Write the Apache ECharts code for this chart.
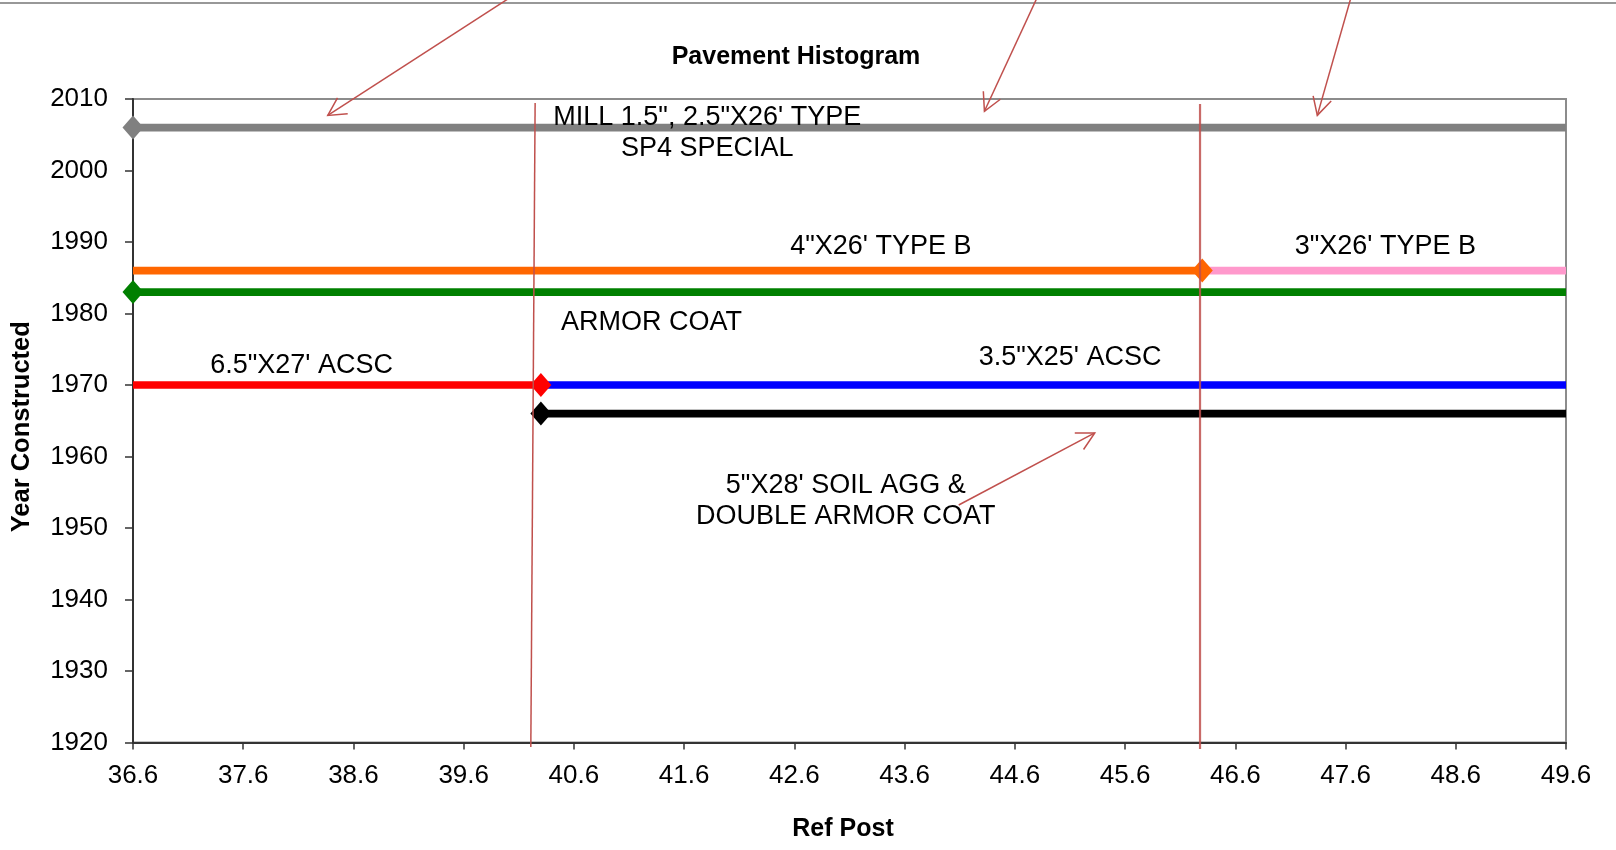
<!DOCTYPE html>
<html><head><meta charset="utf-8">
<script src="https://cdn.jsdelivr.net/npm/echarts@6/dist/echarts.min.js"></script>
<style>html,body{margin:0;padding:0;background:#fff}#c{width:1616px;height:850px}</style>
</head><body><div id="c"></div>
<script>
// ---- data ----
const xTicks = [36.6, 37.6, 38.6, 39.6, 40.6, 41.6, 42.6, 43.6, 44.6, 45.6, 46.6, 47.6, 48.6, 49.6];
const yTicks = [1920, 1930, 1940, 1950, 1960, 1970, 1980, 1990, 2000, 2010];
// pavement segments (drawing order)
const segmentNames = ["MILL 1.5\", 2.5\"X26' TYPE SP4 SPECIAL", "3\"X26' TYPE B", "4\"X26' TYPE B", "ARMOR COAT", "3.5\"X25' ACSC", "6.5\"X27' ACSC", "5\"X28' SOIL AGG & DOUBLE ARMOR COAT"];
const segmentYears = [2006, 1986, 1986, 1983, 1970, 1970, 1966];
const segmentFrom  = [36.6, 46.3, 36.6, 36.6, 40.3, 36.6, 40.3];
const segmentTo    = [49.6, 49.6, 46.3, 49.6, 49.6, 40.3, 49.6];
const segmentMarker = ['from', 'none', 'to', 'from', 'none', 'to', 'from'];
// annotation texts
const noteTexts = ["MILL 1.5\", 2.5\"X26' TYPE\nSP4 SPECIAL", "4\"X26' TYPE B", "3\"X26' TYPE B", "ARMOR COAT", "6.5\"X27' ACSC", "3.5\"X25' ACSC", "5\"X28' SOIL AGG &\nDOUBLE ARMOR COAT"];

// ---- styles / layout ----
const segmentColors = ['#808080', '#FF99CC', '#FF6600', '#008000', '#0000FF', '#FF0000', '#000000'];
const noteAnchors = [[41.81, 2005.27], [43.384, 1989.38], [47.961, 1989.42], [41.303, 1978.72], [38.129, 1972.67], [45.101, 1973.81], [43.066, 1953.77]];
const dividerLines = [
  {from: [40.248, 2009.44], to: [40.209, 1919.37], width: 1.5, opacity: 1},
  {from: [46.28, 2009.3], to: [46.28, 1919.09], width: 2.2, opacity: 0.85}
];
const arrowLines = [
  {tail: [40.057, 2024.55], tip: [38.367, 2007.71]},
  {tail: [44.813, 2024.55], tip: [44.324, 2008.28]},
  {tail: [47.656, 2024.55], tip: [47.344, 2007.71]},
  {tail: [44.091, 1953.22], tip: [45.325, 1963.30]}
];
const FONT = '"Liberation Sans", Arial, sans-serif';
const ANNOT = '#C0504D';

const chart = echarts.init(document.getElementById('c'), null, {renderer: 'canvas'});

const series = segmentYears.map((yr, i) => ({
  type: 'line',
  name: segmentNames[i],
  data: [
    {value: [segmentFrom[i], yr], symbol: segmentMarker[i] === 'from' ? 'diamond' : 'none'},
    {value: [segmentTo[i], yr], symbol: segmentMarker[i] === 'to' ? 'diamond' : 'none'}
  ],
  symbolSize: [21, 24],
  showSymbol: true,
  lineStyle: {width: 7.7, color: segmentColors[i], cap: 'butt'},
  itemStyle: {color: segmentColors[i]},
  clip: false,
  silent: true,
  animation: false,
  z: 2 + i
}));

chart.setOption({
  animation: false,
  backgroundColor: '#fff',
  title: {
    text: 'Pavement Histogram',
    left: 796,
    textAlign: 'center',
    top: 45,
    padding: 0,
    textStyle: {fontFamily: FONT, fontSize: 25, fontWeight: 'bold', color: '#000'}
  },
  grid: {left: 133, right: 50, top: 99, bottom: 107.5, show: true, borderColor: '#8c8c8c', borderWidth: 2, backgroundColor: 'transparent'},
  xAxis: {
    type: 'value', min: xTicks[0], max: xTicks[xTicks.length - 1],
    name: 'Ref Post', nameLocation: 'middle', nameGap: 74,
    nameTextStyle: {fontFamily: FONT, fontSize: 25, fontWeight: 'bold', color: '#000', padding: [0, 13, 0, 0]},
    axisLine: {show: true, lineStyle: {color: '#333', width: 2}},
    axisTick: {show: true, length: 7, customValues: xTicks, lineStyle: {color: '#333', width: 1.5}},
    axisLabel: {customValues: xTicks, margin: 20, fontFamily: FONT, fontSize: 26, color: '#000', formatter: v => v.toFixed(1)},
    splitLine: {show: false}
  },
  yAxis: {
    type: 'value', min: yTicks[0], max: yTicks[yTicks.length - 1], interval: 10,
    name: 'Year Constructed', nameLocation: 'middle', nameGap: 98, nameRotate: 90,
    nameTextStyle: {fontFamily: FONT, fontSize: 25.5, fontWeight: 'bold', color: '#000', padding: [0, 12, 0, 0]},
    axisLine: {show: true, lineStyle: {color: '#333', width: 2}},
    axisTick: {show: true, length: 8, lineStyle: {color: '#333', width: 1.5}},
    axisLabel: {margin: 25, fontFamily: FONT, fontSize: 26, color: '#000', formatter: v => String(v)},
    splitLine: {show: false}
  },
  series: series
});

function px(p) { return chart.convertToPixel({gridIndex: 0}, p); }

const graphics = [];
// frame line at top
graphics.push({type: 'line', silent: true, z: 100, shape: {x1: 0, y1: 3, x2: 1616, y2: 3}, style: {stroke: '#333', lineWidth: 1.2}});
dividerLines.forEach(d => {
  const a = px(d.from), b = px(d.to);
  graphics.push({type: 'line', silent: true, z: 100, shape: {x1: a[0], y1: a[1], x2: b[0], y2: b[1]}, style: {stroke: ANNOT, lineWidth: d.width, opacity: d.opacity}});
});
arrowLines.forEach(ar => {
  const t = px(ar.tip), q = px(ar.tail);
  const dx = q[0] - t[0], dy = q[1] - t[1];
  const L = Math.hypot(dx, dy), ux = dx / L, uy = dy / L;
  const ang = 28 * Math.PI / 180, len = 20;
  const r1 = [t[0] + len * (ux * Math.cos(ang) - uy * Math.sin(ang)), t[1] + len * (ux * Math.sin(ang) + uy * Math.cos(ang))];
  const r2 = [t[0] + len * (ux * Math.cos(-ang) - uy * Math.sin(-ang)), t[1] + len * (ux * Math.sin(-ang) + uy * Math.cos(-ang))];
  graphics.push({type: 'line', silent: true, z: 100, shape: {x1: q[0], y1: q[1], x2: t[0], y2: t[1]}, style: {stroke: ANNOT, lineWidth: 1.5}});
  graphics.push({type: 'polyline', silent: true, z: 100, shape: {points: [r1, t, r2]}, style: {stroke: ANNOT, lineWidth: 1.5, fill: null}});
});
noteTexts.forEach((txt, i) => {
  const p = px(noteAnchors[i]);
  graphics.push({type: 'text', silent: true, z: 101, x: p[0], y: p[1],
    style: {text: txt, fontFamily: FONT, fontSize: 27, fill: '#000', align: 'center', verticalAlign: 'middle', lineHeight: 31}});
});
chart.setOption({graphic: graphics});
</script>
</body></html>
